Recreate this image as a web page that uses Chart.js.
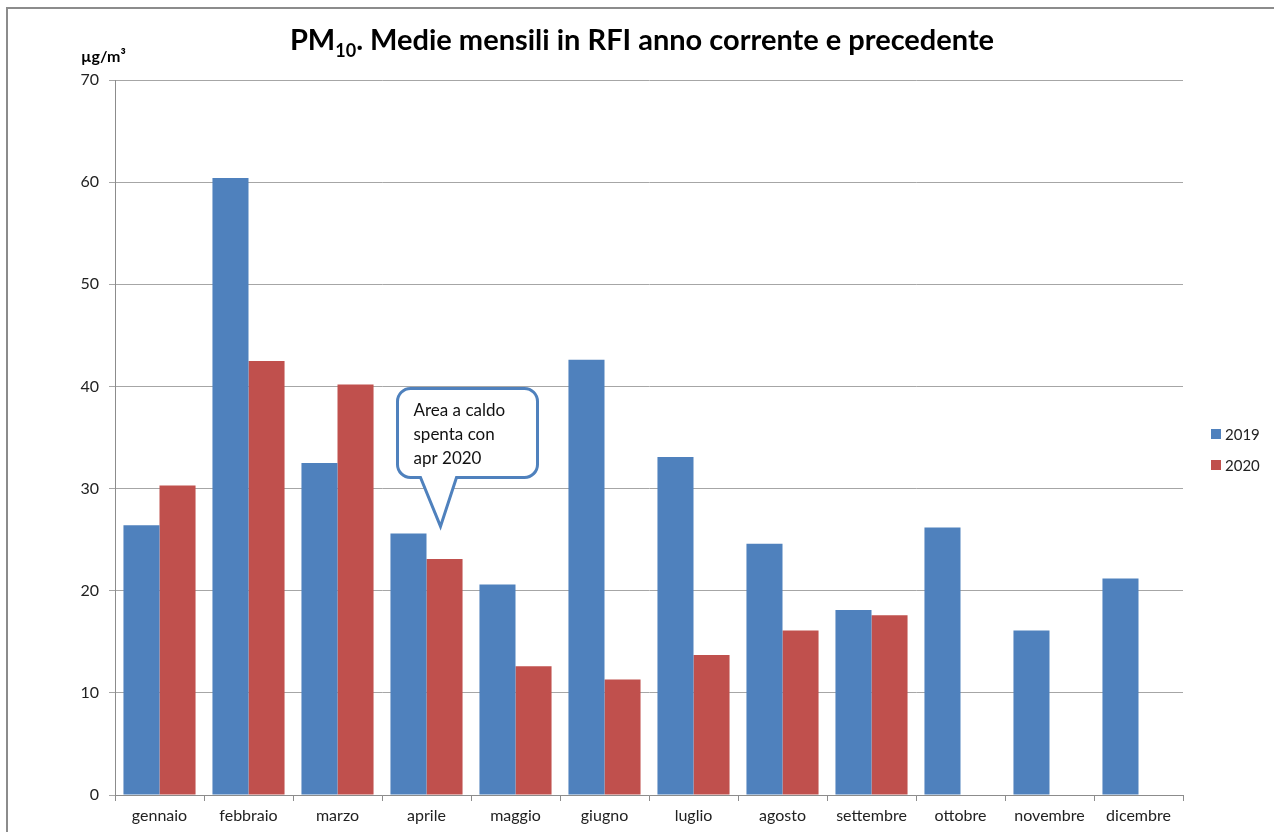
<!DOCTYPE html>
<html>
<head>
<meta charset="utf-8">
<script src="https://cdn.jsdelivr.net/npm/chart.js@4"></script>
<style>
  html, body { margin: 0; padding: 0; background: #fff; }
  #wrap { position: relative; width: 1274px; height: 832px; overflow: hidden; }
  #frame { position: absolute; left: 6px; top: 7px; width: 1300px; height: 900px;
           border-left: 2px solid #8c8c8c; border-top: 2px solid #8c8c8c; pointer-events: none; }
  canvas { position: absolute; left: 0; top: 0; }
</style>
</head>
<body>
<div id="wrap">
  <canvas id="pmChart" width="1274" height="832"></canvas>
  <div id="frame"></div>
</div>
<script>
// Month labels and monthly means (µg/m³)
const months = ['gennaio', 'febbraio', 'marzo', 'aprile', 'maggio', 'giugno',
                'luglio', 'agosto', 'settembre', 'ottobre', 'novembre', 'dicembre'];
const values2019 = [26.4, 60.4, 32.5, 25.6, 20.6, 42.6, 33.1, 24.6, 18.1, 26.2, 16.1, 21.2];
const values2020 = [30.3, 42.5, 40.2, 23.1, 12.6, 11.3, 13.7, 16.1, 17.6, null, null, null];
const seriesNames = ['2019', '2020'];
const seriesColors = ['#4F81BD', '#C0504D'];
const calloutLines = ['Area a caldo', 'spenta con', 'apr 2020'];
const calloutMonth = 3; // aprile

const FONT = 'Lato, "Open Sans", sans-serif';

// Title with subscript, unit label, legend and callout
const decorPlugin = {
    id: 'decor',
    afterDraw(chart) {
        const ctx = chart.ctx;
        const x = chart.scales.x, y = chart.scales.y;
        ctx.save();

        // Title: PM10 with subscript
        const big = 'bold 29px ' + FONT, small = 'bold 18px ' + FONT;
        const parts = [['PM', big, 0], ['10', small, 7], ['. Medie mensili in RFI anno corrente e precedente', big, 0]];
        let total = 0;
        parts.forEach(p => { ctx.font = p[1]; total += ctx.measureText(p[0]).width; });
        let tx = 642 - total / 2;
        ctx.fillStyle = '#000';
        ctx.textBaseline = 'alphabetic';
        ctx.textAlign = 'left';
        parts.forEach(p => {
            ctx.font = p[1];
            ctx.fillText(p[0], tx, 50 + p[2]);
            tx += ctx.measureText(p[0]).width;
        });

        // Unit label above the y axis
        ctx.font = 'bold 16px ' + FONT;
        ctx.fillText('µg/m³', 81, 62);

        // Legend
        ctx.font = '15px ' + FONT;
        ctx.textBaseline = 'middle';
        seriesNames.forEach((name, i) => {
            const ly = 434 + i * 31;
            ctx.fillStyle = seriesColors[i];
            ctx.fillRect(1211, ly - 5, 10, 10);
            ctx.fillStyle = '#222';
            ctx.fillText(name, 1225, ly + 1);
        });

        // Callout pointing at the aprile bars
        const tipX = x.getPixelForValue(calloutMonth) + 14;
        const tipY = y.getPixelForValue(values2019[calloutMonth] + 0.7);
        const bx = tipX - 43, by = y.getPixelForValue(39.8), bw = 140, bh = 89, r = 13;
        ctx.beginPath();
        ctx.moveTo(bx + r, by);
        ctx.lineTo(bx + bw - r, by);
        ctx.arcTo(bx + bw, by, bx + bw, by + r, r);
        ctx.lineTo(bx + bw, by + bh - r);
        ctx.arcTo(bx + bw, by + bh, bx + bw - r, by + bh, r);
        ctx.lineTo(tipX + 16, by + bh);
        ctx.lineTo(tipX, tipY);
        ctx.lineTo(tipX - 20, by + bh);
        ctx.lineTo(bx + r, by + bh);
        ctx.arcTo(bx, by + bh, bx, by + bh - r, r);
        ctx.lineTo(bx, by + r);
        ctx.arcTo(bx, by, bx + r, by, r);
        ctx.closePath();
        ctx.fillStyle = '#fff';
        ctx.fill();
        ctx.lineWidth = 3;
        ctx.strokeStyle = '#4F81BD';
        ctx.stroke();
        ctx.fillStyle = '#111';
        ctx.font = '17px ' + FONT;
        ctx.textBaseline = 'middle';
        calloutLines.forEach((line, i) => ctx.fillText(line, bx + 16, by + 22 + i * 24));

        ctx.restore();
    }
};

const ctx = document.getElementById('pmChart').getContext('2d');
new Chart(ctx, {
    type: 'bar',
    data: {
        labels: months,
        datasets: [
            { label: seriesNames[0], data: values2019, backgroundColor: seriesColors[0] },
            { label: seriesNames[1], data: values2020, backgroundColor: seriesColors[1] }
        ]
    },
    options: {
        responsive: false,
        animation: false,
        maintainAspectRatio: false,
        layout: { padding: { top: 80, right: 91, left: 0, bottom: 0 } },
        datasets: { bar: { categoryPercentage: 0.81, barPercentage: 1 } },
        plugins: {
            legend: { display: false },
            title: { display: false },
            tooltip: { enabled: false }
        },
        scales: {
            x: {
                grid: { drawOnChartArea: false, drawTicks: true, tickLength: 6, color: '#8c8c8c' },
                border: { color: '#8c8c8c' },
                ticks: { color: '#222', font: { family: FONT, size: 16 }, padding: 5, maxRotation: 0 },
                afterFit(scale) { scale.height = 37; }
            },
            y: {
                min: 0,
                max: 70,
                ticks: { stepSize: 10, color: '#222', font: { family: FONT, size: 16 }, padding: 10 },
                grid: { color: '#a6a6a6', tickLength: 6 },
                border: { color: '#8c8c8c' },
                afterFit(scale) { scale.width = 115; }
            }
        }
    },
    plugins: [decorPlugin]
});
</script>
</body>
</html>
